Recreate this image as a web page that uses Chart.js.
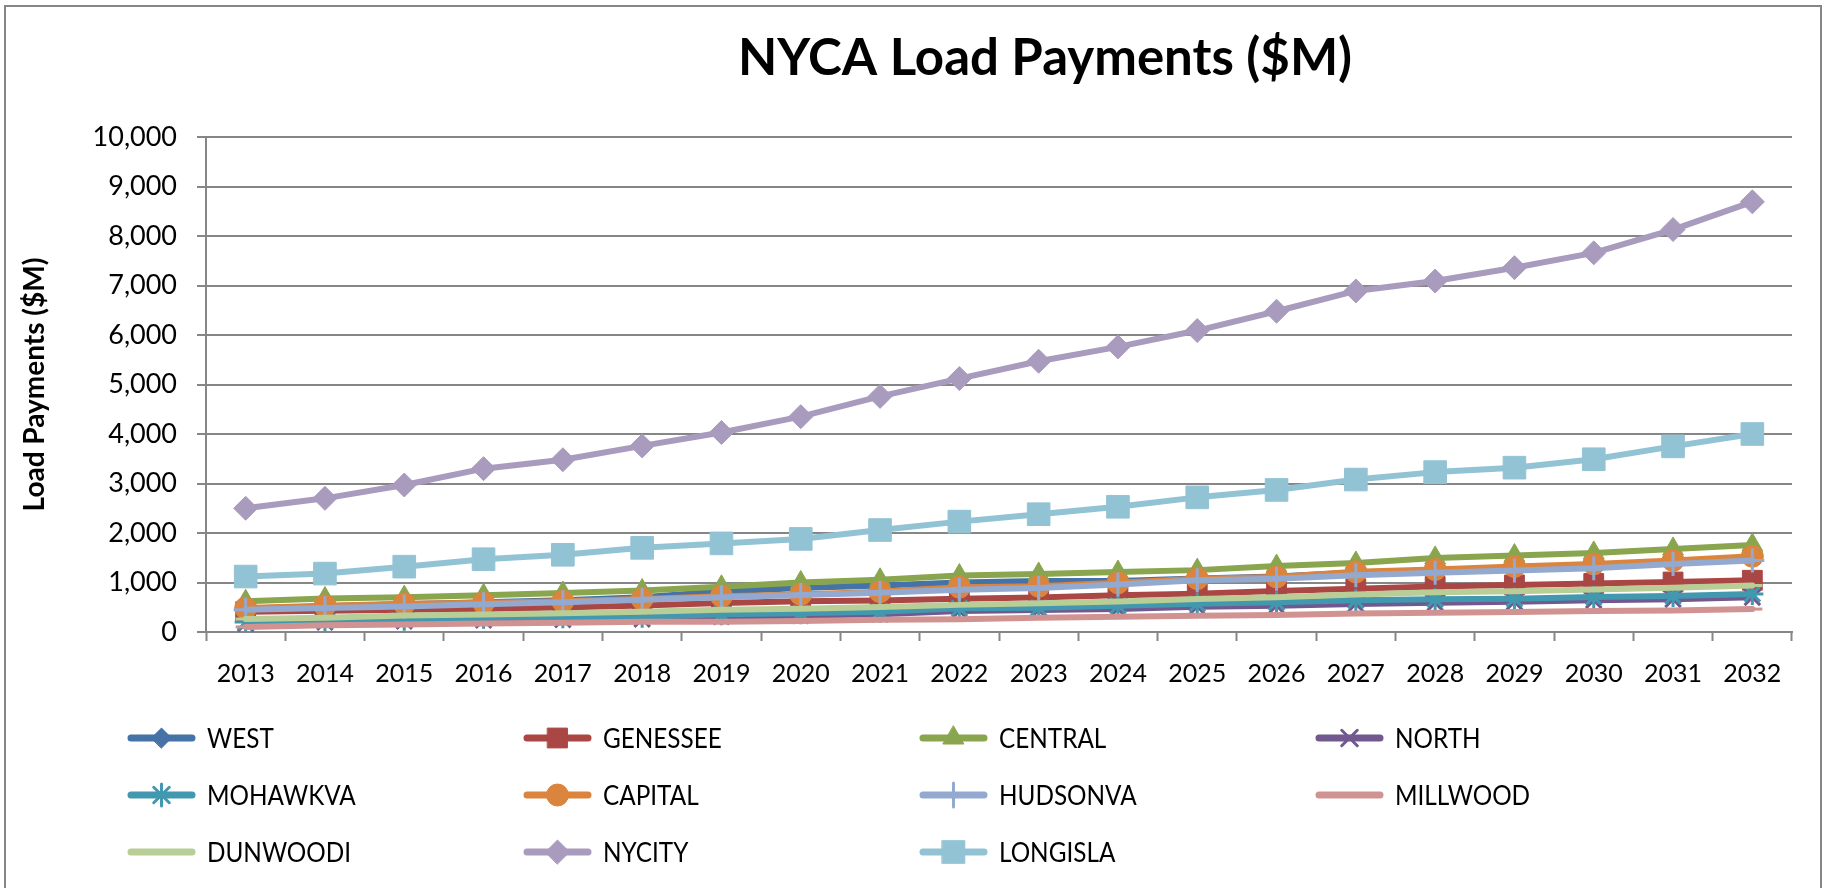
<!DOCTYPE html>
<html lang="en">
<head>
  <meta charset="UTF-8">
  <title>NYCA Load Payments ($M)</title>
  <script src="https://cdn.jsdelivr.net/npm/chart.js@4"></script>
  <style>
    html, body { margin: 0; padding: 0; background: #fff; }
    #chart { display: block; }
  </style>
</head>
<body>
  <canvas id="chart" width="1828" height="888"></canvas>

  <script>
    // categories
    const years = ['2013', '2014', '2015', '2016', '2017', '2018', '2019', '2020', '2021', '2022',
                   '2023', '2024', '2025', '2026', '2027', '2028', '2029', '2030', '2031', '2032'];

    // load payments by zone, $M
    const west     = [470, 520, 560, 600, 640, 700, 820, 890, 940, 1000, 1030, 1030, 1080, 1120, 1200, 1250, 1300, 1360, 1420, 1500];
    const genessee = [410, 428, 448, 466, 493, 534, 586, 620, 634, 671, 699, 740, 771, 826, 874, 920, 950, 980, 1010, 1045];
    const central  = [620, 676, 703, 740, 788, 836, 913, 1000, 1054, 1140, 1170, 1210, 1250, 1331, 1395, 1497, 1544, 1597, 1678, 1758];
    const north    = [170, 200, 220, 240, 250, 260, 310, 330, 360, 425, 445, 465, 510, 530, 565, 590, 610, 640, 660, 700];
    const mohawkva = [200, 230, 250, 290, 300, 310, 360, 380, 410, 480, 490, 530, 570, 600, 640, 660, 670, 705, 725, 770];
    const capital  = [483, 530, 570, 590, 620, 665, 724, 759, 814, 904, 925, 993, 1078, 1113, 1215, 1262, 1322, 1376, 1443, 1530];
    const hudsonva = [448, 483, 517, 562, 603, 651, 703, 745, 793, 856, 890, 959, 1044, 1078, 1147, 1195, 1242, 1289, 1376, 1443];
    const millwood = [103, 138, 152, 171, 185, 205, 207, 221, 248, 260, 288, 308, 328, 341, 375, 389, 403, 423, 436, 463];
    const dunwoodi = [262, 290, 331, 356, 377, 411, 448, 469, 503, 548, 582, 616, 669, 703, 758, 805, 825, 859, 893, 940];
    const nycity   = [2500, 2700, 2970, 3300, 3480, 3760, 4030, 4350, 4760, 5120, 5470, 5760, 6090, 6480, 6890, 7090, 7360, 7660, 8130, 8690];
    const longisla = [1120, 1180, 1320, 1470, 1560, 1700, 1790, 1880, 2060, 2230, 2380, 2530, 2720, 2870, 3080, 3230, 3320, 3490, 3750, 4000];

    // y axis ticks
    const yMin = 0;
    const yMax = 10000;
    const yStep = 1000;

    const FONT = 'Lato, "Liberation Sans", sans-serif';
    const GRID = '#868686';

    const zones = [
      { label: 'WEST',     data: west,     color: '#4572A7', marker: 'rectRot',  r: 10 },
      { label: 'GENESSEE', data: genessee, color: '#AA4643', marker: 'rect',     r: 14 },
      { label: 'CENTRAL',  data: central,  color: '#89A54E', marker: 'triangle', r: 12 },
      { label: 'NORTH',    data: north,    color: '#71588F', marker: 'crossRot', r: 11 },
      { label: 'MOHAWKVA', data: mohawkva, color: '#4198AF', marker: 'star',     r: 11 },
      { label: 'CAPITAL',  data: capital,  color: '#DB843D', marker: 'circle',   r: 11 },
      { label: 'HUDSONVA', data: hudsonva, color: '#93A9CF', marker: 'cross',    r: 12 },
      { label: 'MILLWOOD', data: millwood, color: '#D19392', marker: 'line',     r: 10 },
      { label: 'DUNWOODI', data: dunwoodi, color: '#B9CD96', marker: 'line',     r: 10 },
      { label: 'NYCITY',   data: nycity,   color: '#A99BBD', marker: 'rectRot',  r: 12 },
      { label: 'LONGISLA', data: longisla, color: '#92C3D5', marker: 'rect',     r: 16 }
    ];

    const strokeMarkers = ['cross', 'crossRot', 'star', 'line'];

    const datasets = zones.map((z, i) => ({
      label: z.label,
      data: z.data,
      borderColor: z.color,
      backgroundColor: z.color,
      borderWidth: 6,
      borderJoinStyle: 'round',
      borderCapStyle: 'round',
      pointStyle: z.marker,
      pointRadius: z.r,
      pointHoverRadius: z.r,
      pointBackgroundColor: z.color,
      pointBorderColor: z.color,
      pointBorderWidth: strokeMarkers.includes(z.marker) ? 3 : 1,
      tension: 0,
      order: zones.length - i   // later zones drawn on top, like Excel
    }));

    // title and outer frame
    const frame = {
      id: 'frame',
      afterDraw(chart) {
        const ctx = chart.ctx;
        ctx.save();
        ctx.strokeStyle = GRID;
        ctx.lineWidth = 2;
        ctx.strokeRect(5, 6, 1816, 900);
        ctx.fillStyle = '#000';
        ctx.font = 'bold 51px ' + FONT;
        ctx.textAlign = 'center';
        ctx.textBaseline = 'middle';
        ctx.fillText('NYCA Load Payments ($M)', 1045, 59);
        ctx.restore();
      }
    };

    // legend in a 4-column grid like the original
    const gridLegend = {
      id: 'gridLegend',
      afterDraw(chart) {
        const ctx = chart.ctx;
        ctx.save();
        chart.data.datasets.forEach((ds, i) => {
          const x = 131 + (i % 4) * 396;
          const y = 738 + Math.floor(i / 4) * 57;
          ctx.strokeStyle = ds.borderColor;
          ctx.lineWidth = 7;
          ctx.lineCap = 'round';
          ctx.beginPath();
          ctx.moveTo(x, y);
          ctx.lineTo(x + 61, y);
          ctx.stroke();
          ctx.fillStyle = ds.pointBackgroundColor;
          ctx.lineWidth = ds.pointBorderWidth;
          Chart.helpers.drawPoint(ctx, {
            pointStyle: ds.pointStyle,
            radius: ds.pointRadius,
            borderWidth: ds.pointBorderWidth,
            rotation: 0
          }, x + 30.5, y);
          // slightly condensed, taller text like the original
          ctx.fillStyle = '#000';
          ctx.font = '27px ' + FONT;
          ctx.textAlign = 'left';
          ctx.textBaseline = 'middle';
          ctx.translate(x + 76, y + 1);
          ctx.scale(0.9, 1);
          ctx.fillText(ds.label, 0, 0);
          ctx.setTransform(1, 0, 0, 1, 0, 0);
        });
        ctx.restore();
      }
    };

    new Chart(document.getElementById('chart'), {
      type: 'line',
      data: { labels: years, datasets: datasets },
      options: {
        responsive: false,
        animation: false,
        layout: { padding: { left: 0, right: 36, top: 137, bottom: 196 } },
        plugins: {
          legend: { display: false },
          title: { display: false },
          tooltip: { enabled: false }
        },
        scales: {
          x: {
            offset: true,
            afterFit(scale) { scale.height = 60; },
            grid: {
              offset: true,
              drawOnChartArea: false,
              drawTicks: true,
              tickLength: 9,
              tickWidth: 2,
              tickColor: GRID
            },
            border: { display: true, color: GRID, width: 2 },
            ticks: {
              color: '#000',
              padding: 18,
              maxRotation: 0,
              autoSkip: false,
              font: { family: FONT, size: 25 }
            }
          },
          y: {
            min: yMin,
            max: yMax,
            afterFit(scale) { scale.width = 206; },
            grid: {
              color: GRID,
              lineWidth: 2,
              drawTicks: true,
              tickLength: 9,
              tickColor: GRID
            },
            border: { display: true, color: GRID, width: 2 },
            ticks: {
              stepSize: yStep,
              color: '#000',
              padding: 20,
              font: { family: FONT, size: 27 },
              callback: v => v.toLocaleString('en-US')
            },
            title: {
              display: true,
              text: 'Load Payments ($M)',
              color: '#000',
              padding: { top: 18, bottom: 0 },
              font: { family: FONT, size: 28, weight: 'bold' }
            }
          }
        }
      },
      plugins: [frame, gridLegend]
    });
  </script>
</body>
</html>
